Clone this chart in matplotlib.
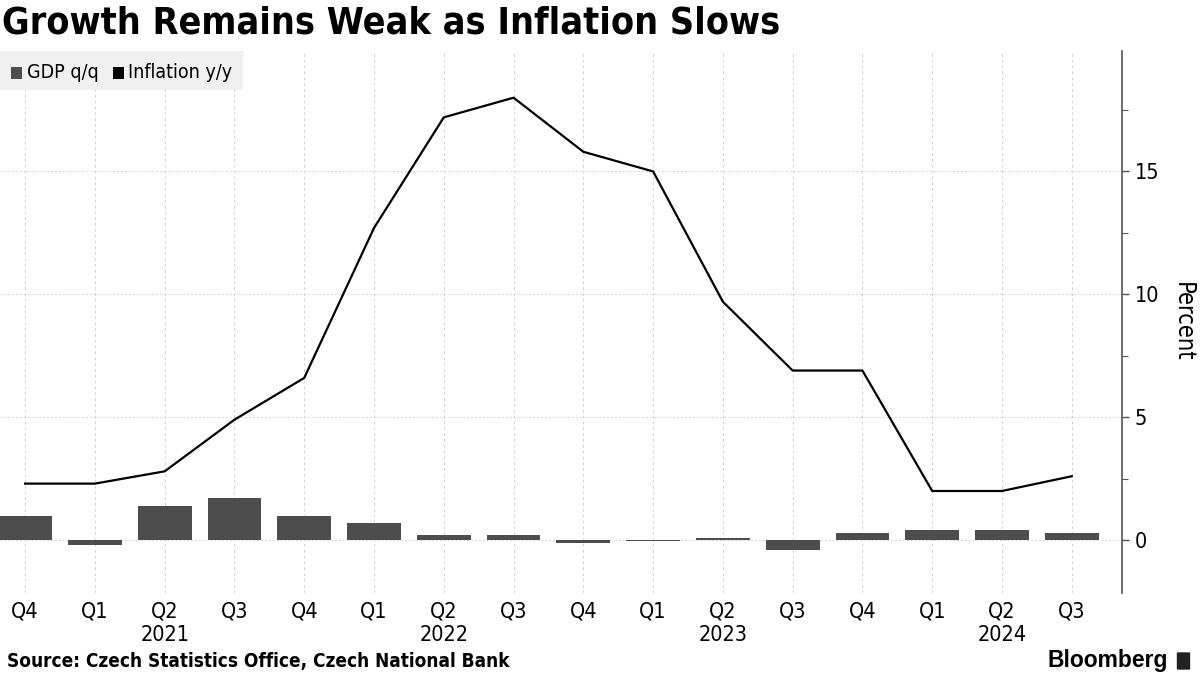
import numpy as np
import matplotlib
matplotlib.use("Agg")
import matplotlib.pyplot as plt
from matplotlib.patches import Rectangle, FancyBboxPatch
from matplotlib.ticker import MultipleLocator

quarters = ["Q4", "Q1", "Q2", "Q3", "Q4", "Q1", "Q2", "Q3",
            "Q4", "Q1", "Q2", "Q3", "Q4", "Q1", "Q2", "Q3"]
years = {2: "2021", 6: "2022", 10: "2023", 14: "2024"}
gdp_qq = [1.0, -0.2, 1.4, 1.7, 1.0, 0.7, 0.2, 0.2,
          -0.1, -0.03, 0.1, -0.4, 0.3, 0.4, 0.4, 0.3]
inflation_yy = [2.3, 2.3, 2.8, 4.9, 6.6, 12.7, 17.2, 18.0,
                15.8, 15.0, 9.7, 6.9, 6.9, 2.0, 2.0, 2.6]

plt.rcParams['font.family'] = ['DejaVu Sans']
plt.rcParams['font.stretch'] = 'condensed'

bar_color = '#4d4d4d'
fig = plt.figure(figsize=(12, 6.75), dpi=100)
ax = fig.add_axes([0.0, 1 - 593 / 675, 1122 / 1200, (593 - 51) / 675])

x = np.arange(len(quarters))
ax.bar(x, gdp_qq, width=0.77, color=bar_color, zorder=2)
ax.plot(x, inflation_yy, color='black', lw=1.6, zorder=3)

ax.set_xlim(-0.36, 15.72)
ax.set_ylim(-2.15, 19.9)
ax.yaxis.tick_right()
ax.yaxis.set_label_position('right')
ax.yaxis.set_major_locator(MultipleLocator(5))
ax.yaxis.set_minor_locator(MultipleLocator(2.5))
ax.set_ylabel('Percent', rotation=270, labelpad=26, fontsize=17)

ax.set_xticks(x)
labels = [q + ("\n" + years[i] if i in years else "") for i, q in enumerate(quarters)]
ax.set_xticklabels(labels, fontsize=15.5, linespacing=1.2)
ax.tick_params(axis='x', length=0, pad=6)
ax.tick_params(axis='y', which='major', length=5, width=1, color='#555555',
               labelsize=15.5, pad=4, direction='out')
ax.tick_params(axis='y', which='minor', length=4, width=0.8, color='#555555')

for s in ['top', 'left', 'bottom']:
    ax.spines[s].set_visible(False)
ax.spines['right'].set_color('#555555')
ax.spines['right'].set_linewidth(1.2)

ax.grid(axis='x', color='#d4d4d4', linestyle=(0, (3, 3)), lw=0.7, zorder=0)
ax.grid(axis='y', which='major', color='#d4d4d4', linestyle=(0, (2, 2)), lw=0.7, zorder=0)

# legend box
fig.patches.append(Rectangle((0, 1 - 90 / 675), 243 / 1200, 39 / 675,
                             transform=fig.transFigure, facecolor='#f0f0f0',
                             edgecolor='none', zorder=1))
fig.patches.append(Rectangle((11 / 1200, 1 - 79 / 675), 11 / 1200, 12 / 675,
                             transform=fig.transFigure, facecolor=bar_color,
                             edgecolor='none', zorder=2))
fig.patches.append(Rectangle((113 / 1200, 1 - 79 / 675), 11 / 1200, 12 / 675,
                             transform=fig.transFigure, facecolor='black',
                             edgecolor='none', zorder=2))
fig.text(27 / 1200, 1 - 72 / 675, "GDP q/q", fontsize=14, va='center', ha='left')
fig.text(128 / 1200, 1 - 72 / 675, "Inflation y/y", fontsize=14, va='center', ha='left')

fig.text(0.002, 1 - 23 / 675, "Growth Remains Weak as Inflation Slows",
         fontsize=27, fontweight='heavy', va='center', ha='left')
fig.text(0.006, 1 - 661 / 675, "Source: Czech Statistics Office, Czech National Bank",
         fontsize=13.6, fontweight='bold', va='center', ha='left')
fig.text(1168 / 1200, 1 - 660 / 675, "Bloomberg", fontsize=16.5, fontweight='bold',
         va='center', ha='right', family='Liberation Sans', stretch='normal')
fig.patches.append(FancyBboxPatch((1178 / 1200, 1 - 669 / 675), 11 / 1200, 16 / 675,
                                  boxstyle='round,pad=0.001', transform=fig.transFigure,
                                  facecolor='#222222', edgecolor='none'))

fig.savefig('out.png', dpi=100)
